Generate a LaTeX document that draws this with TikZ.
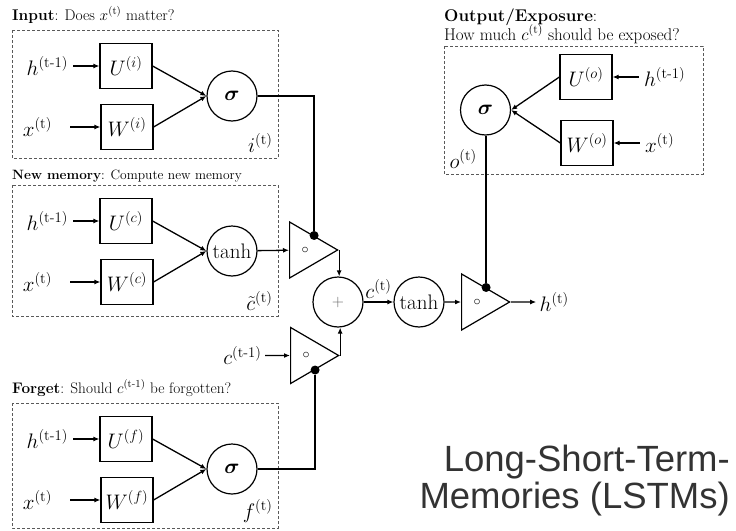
\RequirePackage{fix-cm}
\documentclass[tikz,border=0pt]{standalone}
\usepackage{amsmath}
\usepackage{fontspec}
\newfontfamily\headfont{Liberation Sans}
\usepackage{tikz}
\usetikzlibrary{positioning, arrows.meta, shapes.geometric}

\begin{document}
\begin{tikzpicture}[
  x=1pt, y=-1pt,
  font=\fontsize{21}{24}\selectfont,
  wbox/.style={draw, line width=1.2pt, minimum width=52pt, minimum height=45pt, inner sep=0pt},
  unit/.style={circle, draw, line width=1.2pt, minimum size=50pt, inner sep=0pt},
  gate/.style={isosceles triangle, isosceles triangle stretches, draw, line width=1.2pt,
    minimum width=56pt, minimum height=48pt, inner sep=0pt, anchor=west, font=\fontsize{14}{16}\selectfont},
  panel/.style={draw, gray!70!black, line width=1pt, dash pattern=on 3pt off 2pt},
  ttl/.style={anchor=base west, inner sep=0pt},
  arr/.style={-{Latex[length=6pt, width=5pt]}, line width=1.3pt},
  wire/.style={line width=1.3pt},
  dot/.style={circle, fill, inner sep=0pt, minimum size=9pt}
]
  \useasboundingbox (0,0) rectangle (736,530);
  % the three gates on the left
  \foreach \k/\ya/\yb/\yt/\fs/\ttext/\act/\out in {
    i/30/158/20/15.5/{\textbf{Input}: Does $x^{(\mathrm{t})}$ matter?}/{$\boldsymbol{\sigma}$}/{$i^{(\mathrm{t})}$},
    c/185/316/179/13.5/{\textbf{New memory}: Compute new memory}/{tanh}/{$\tilde{c}^{(\mathrm{t})}$},
    f/403/528/393/15.3/{\textbf{Forget}: Should $c^{(\text{t-1})}$ be forgotten?}/{$\boldsymbol{\sigma}$}/{$f^{(\mathrm{t})}$}} {
    \draw[panel] (12,\ya) rectangle (278,\yb);
    \node[ttl, font=\fontsize{\fs}{18}\selectfont] (t\k) at (12,\yt) {\ttext};
    \node[wbox] (U\k) at (126,{\ya+36}) {$U^{(\k)}$};
    \node[wbox] (W\k) at (127,{\ya+97}) {$W^{(\k)}$};
    \node[unit] (a\k) at (232,{\ya+66}) {\act};
    \node[left=28pt of U\k] (h\k) {$h^{(\text{t-1})}$};
    \node[left=45pt of W\k] (x\k) {$x^{(\mathrm{t})}$};
    \node[anchor=south east] (o\k) at (276,{\yb-2}) {\out};
    \draw[arr, shorten <=2pt] (h\k) -- (U\k);
    \draw[arr, shorten <=15pt] (x\k) -- (W\k);
    \draw[arr] (U\k.east) -- (a\k.west);
    \draw[arr] (W\k.east) -- (a\k.west);
  }

  % output gate
  \draw[panel] (444,46) rectangle (703,174);
  \node[ttl, font=\fontsize{17}{20}\selectfont] (to1) at (444,21) {\textbf{Output/Exposure}:};
  \node[ttl, font=\fontsize{17}{20}\selectfont] (to2) at (444,40) {How much $c^{(\mathrm{t})}$ should be exposed?};
  \node[wbox] (Uo) at (586,77) {$U^{(o)}$};
  \node[wbox] (Wo) at (587,143) {$W^{(o)}$};
  \node[unit] (ao) at (485.5,110) {$\boldsymbol{\sigma}$};
  \node[right=28pt of Uo] (ho) {$h^{(\text{t-1})}$};
  \node[right=28pt of Wo] (xo) {$x^{(\mathrm{t})}$};
  \node[anchor=south west] (oo) at (446,172) {$o^{(\mathrm{t})}$};
  \draw[arr, shorten <=2pt] (ho) -- (Uo);
  \draw[arr, shorten <=2pt] (xo) -- (Wo);
  \draw[arr] (Uo.west) -- (ao.east);
  \draw[arr] (Wo.west) -- (ao.east);

  % memory cell
  \node[gate] (mi) at (289,250) {$\circ$};
  \node[gate] (mf) at (290,355.5) {$\circ$};
  \node[unit, font=\fontsize{16}{18}\selectfont, text=black!60] (add) at (338,302) {$+$};
  \node[unit] (th) at (419,302) {tanh};
  \node[gate] (mo) at (461,302) {$\circ$};
  \node[left=25pt of mf] (cp) {$c^{(\text{t-1})}$};
  \node[right=25pt of mo] (ht) {$h^{(\mathrm{t})}$};
  \node[dot] (di) at (mi.left side) {};
  \node[dot] (df) at (mf.right side) {};
  \node[dot] (do) at (mo.left side) {};

  \draw[wire] (ai.east) -| (di);
  \draw[wire] (af.east) -| (df);
  \draw[wire] (do) -- (do |- ao.south);
  \draw[arr] (ac) -- (mi);
  \draw[arr] (cp) -- (mf);
  \draw[arr] (mi.apex) -- (mi.apex |- add.north);
  \draw[arr] (mf.apex) -- (mf.apex |- add.south);
  \draw[arr] (add) -- node[above] (ct) {$c^{(\mathrm{t})}$} (th);
  \draw[arr] (th) -- (mo);
  \draw[arr] (mo.apex) -- (ht);

  \node[anchor=north east, align=right, inner sep=0pt, text=black!80,
    font=\headfont\fontsize{36.5}{37}\selectfont] (lstm) at (730,445)
    {Long-Short-Term-\\Memories (LSTMs)};
\end{tikzpicture}
\end{document}
